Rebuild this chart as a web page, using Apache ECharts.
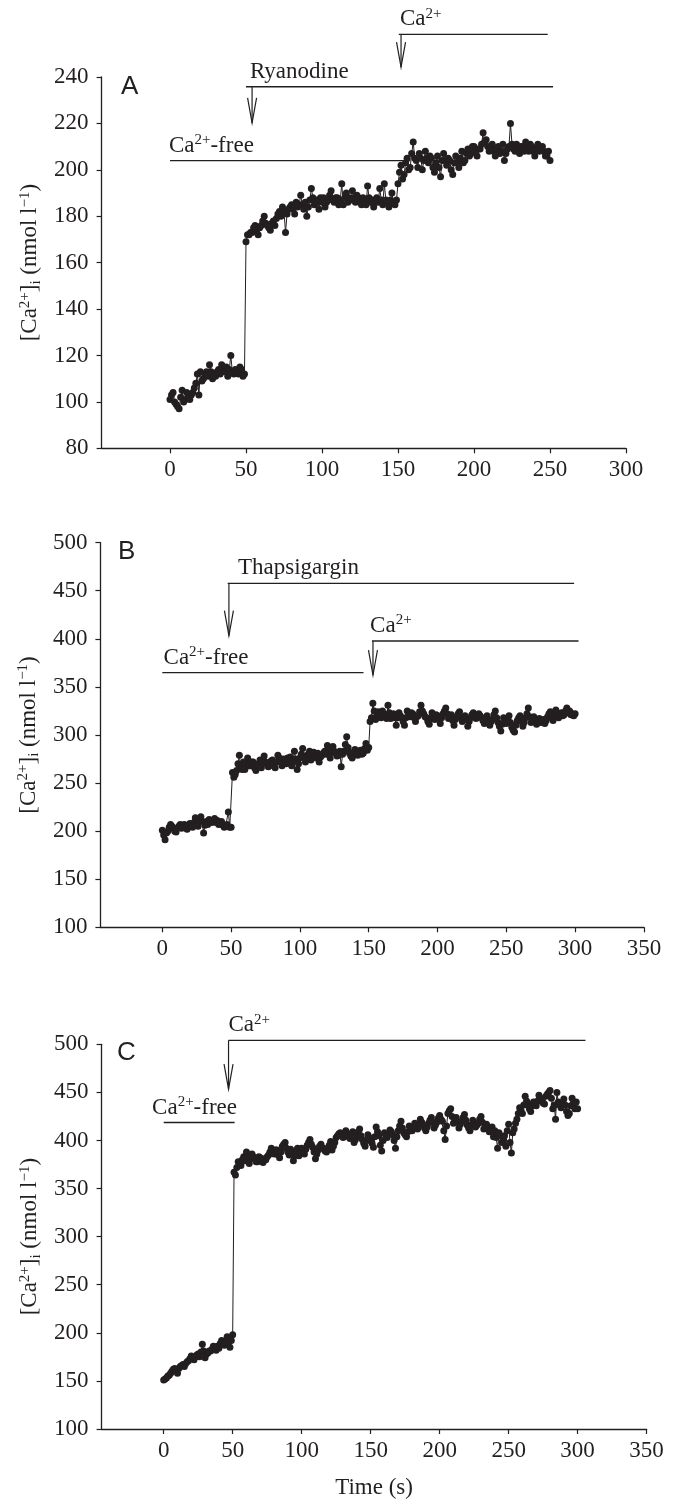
<!DOCTYPE html>
<html><head><meta charset="utf-8">
<script src="https://cdn.jsdelivr.net/npm/echarts@6/dist/echarts.min.js"></script>
<style>html,body{margin:0;padding:0;background:#fff}#c{width:682px;height:1500px}</style>
</head><body><div id="c"></div>
<script>
// ---- data ----
const SAMPLE_STEP_S = 1; // sampling interval of the recordings (s)
const timeTicksA = [0, 50, 100, 150, 200, 250, 300];
const timeTicksBC = [0, 50, 100, 150, 200, 250, 300, 350];

// Panel A: t = 0..250 s (one value per second)
const valuesA = [
  101,103,104,100,99,98,97,102,105,100,
  101,104,103,101,103,104,106,108,112,103,
  113,109,110,112,113,111,116,113,110,112,
  111,113,114,112,116,114,113,115,111,114,
  120,113,112,114,113,112,115,114,111,112,
  169,172,172,173,173,175,176,174,172,175,
  176,178,180,177,176,175,174,177,178,176,
  179,181,182,180,184,182,173,181,183,184,
  185,183,181,186,184,185,189,185,183,186,
  180,184,187,192,188,185,187,186,183,188,
  186,188,184,186,187,189,191,187,186,188,
  188,185,187,194,185,188,190,186,188,187,
  191,188,186,189,188,186,185,188,187,185,
  193,188,186,187,184,186,188,186,192,187,
  185,194,187,186,184,187,190,186,185,187,
  194,199,202,196,198,203,205,200,201,207,
  212,205,204,201,207,205,200,204,208,205,
  203,206,205,201,199,203,206,201,197,204,
  207,204,202,205,204,200,198,203,206,203,
  201,205,208,203,204,207,209,206,207,210,
  210,208,206,209,209,211,216,212,213,210,
  208,210,211,208,206,209,210,207,208,211,
  204,207,209,210,220,211,209,208,211,209,
  207,210,210,208,212,209,208,211,210,208,
  206,209,211,208,209,210,208,206,206,208,
  204
];
// Panel B: t = 0..300 s
const valuesB = [
  201,196,191,198,200,204,207,205,203,200,
  199,203,205,207,203,206,207,204,202,206,
  208,205,204,209,214,206,205,211,215,210,
  198,206,210,207,212,210,209,211,213,209,
  211,207,208,210,206,204,205,207,220,204,
  204,261,256,259,263,270,279,266,264,272,
  264,270,276,268,268,272,272,266,263,269,
  270,274,266,271,278,272,270,267,268,273,
  274,270,266,272,279,276,272,268,275,271,
  270,276,274,277,268,272,283,275,264,270,
  276,280,286,278,272,276,280,283,274,279,
  282,278,276,281,272,277,279,281,283,280,
  289,284,276,282,288,283,281,278,279,283,
  267,280,283,290,298,287,281,278,276,282,
  285,281,279,283,284,280,281,286,291,284,
  287,314,318,333,325,316,320,324,321,318,
  325,322,320,317,331,323,317,320,322,318,
  310,318,323,320,318,314,310,318,325,321,
  319,323,322,318,314,319,320,324,331,325,
  322,319,318,314,311,317,323,320,316,321,
  320,317,312,318,322,325,328,322,317,320,
  321,315,310,316,319,322,324,318,314,317,
  320,316,309,314,318,321,323,319,317,320,
  322,320,318,315,312,317,320,316,310,314,
  316,321,325,318,313,309,304,311,318,315,
  312,317,320,313,308,305,303,310,315,318,
  320,314,309,313,318,322,328,319,313,316,
  319,315,311,314,317,313,314,316,312,315,
  319,322,324,318,315,320,326,322,318,321,
  323,320,321,325,328,323,325,321,322,320,
  322
];
// Panel C: t = 0..300 s
const valuesC = [
  151,152,153,155,156,158,160,162,163,161,
  158,163,165,166,167,165,168,170,171,173,
  176,174,172,175,177,178,175,180,188,181,
  174,178,179,181,181,183,186,184,182,186,
  184,189,192,188,187,190,196,191,185,192,
  198,367,364,372,378,375,374,380,383,379,
  388,382,376,381,386,383,381,378,378,383,
  382,379,377,381,380,383,385,388,392,387,
  386,390,390,385,382,388,394,396,398,392,
  388,385,391,386,379,384,389,392,384,388,
  392,389,386,391,395,398,401,396,393,388,
  381,386,390,394,396,392,392,389,388,391,
  395,399,390,394,398,403,405,407,408,406,
  403,407,410,406,404,402,407,409,398,401,
  404,409,412,405,401,397,394,400,406,403,
  400,397,393,404,414,409,405,395,389,400,
  408,405,403,407,411,409,406,400,392,404,
  410,415,420,413,408,406,404,409,415,412,
  410,414,418,415,412,417,422,419,416,413,
  410,414,418,421,424,419,413,416,419,423,
  426,422,420,410,401,415,428,431,433,425,
  418,421,424,419,413,417,420,424,427,421,
  416,413,410,416,421,418,414,416,418,422,
  425,419,412,415,417,413,409,412,414,404,
  410,403,392,408,405,398,400,405,394,410,
  417,398,387,408,412,418,422,428,434,431,
  428,437,446,441,437,433,430,436,440,438,
  436,441,447,444,441,439,438,446,448,450,
  452,444,433,437,422,450,440,437,434,439,
  443,437,430,426,428,436,444,439,433,440,
  433
];

// Annotation bars (data units)
const annA_text = ['{n|Ca}{s|2+}{n|-free}', '{n|Ryanodine}', '{n|Ca}{s|2+}'];
const annA_start = [0, 50, 150.5];
const annA_end = [158, 252, 248.5];
const annA_level = [204, 235.8, 258.4];
const annA_arrowAt = [null, 54, 152];
const annA_arrowTip = [null, 220.2, 244.3];
const annA_textAt = [-0.7, 52.6, 151.3];

const annB_text = ['{n|Ca}{s|2+}{n|-free}', '{n|Thapsigargin}', '{n|Ca}{s|2+}'];
const annB_start = [0, 47.5, 152.4];
const annB_end = [146.2, 299.3, 302.5];
const annB_level = [364.7, 457.7, 397.7];
const annB_arrowAt = [null, 48.4, 153.1];
const annB_arrowTip = [null, 403.2, 362.3];
const annB_textAt = [0.9, 55, 151];

const annC_text = ['{n|Ca}{s|2+}{n|-free}', '{n|Ca}{s|2+}'];
const annC_start = [0, 47];
const annC_end = [51.4, 305.7];
const annC_level = [418.7, 504.1];
const annC_arrowAt = [null, 47];
const annC_arrowTip = [null, 453.3];
const annC_textAt = [-8.4, 46.9];

const panelLetters = ['A', 'B', 'C'];
const yName = '{n|[Ca}{s|2+}{n|]}{b|i}{n| (nmol l}{s|\u22121}{n|)}';
const xName = 'Time (s)';

// ---- styling ----
const INK = '#231f20';
const SERIF = '"Liberation Serif","Times New Roman",serif';
const SANS = '"Liberation Sans",Arial,sans-serif';
const FS = 23;
const rich = {
  n: {fontFamily: SERIF, fontSize: FS, lineHeight: 26, color: INK},
  s: {fontFamily: SERIF, fontSize: 15, lineHeight: 15, verticalAlign: 'top', color: INK},
  b: {fontFamily: SERIF, fontSize: 15, lineHeight: 15, verticalAlign: 'bottom', color: INK}
};

function pairs(values) { return values.map((v, i) => [i * SAMPLE_STEP_S, v]); }

function annotSeries(idx, text, start, end, level, arrowAt, arrowTip, textAt) {
  return {
    type: 'custom', xAxisIndex: idx, yAxisIndex: idx, clip: false, silent: true, z: 6,
    data: level.map((y, i) => [start[i], y]),
    renderItem: function (params, api) {
      const i = params.dataIndex;
      const p0 = api.coord([start[i], level[i]]);
      const p1 = api.coord([end[i], level[i]]);
      const children = [{
        type: 'line', shape: {x1: p0[0], y1: p0[1], x2: p1[0], y2: p1[1]},
        style: {stroke: INK, lineWidth: 1.3}
      }];
      if (arrowAt[i] !== null) {
        const pa = api.coord([arrowAt[i], level[i]]);
        const pt = api.coord([arrowAt[i], arrowTip[i]]);
        children.push({type: 'line', shape: {x1: pa[0], y1: pa[1], x2: pt[0], y2: pt[1]}, style: {stroke: INK, lineWidth: 1.2}});
        children.push({type: 'polyline', shape: {points: [[pt[0] - 4.5, pt[1] - 25], [pt[0], pt[1]], [pt[0] + 4.5, pt[1] - 25]]}, style: {stroke: INK, lineWidth: 1.2, fill: null}});
      }
      const pl = api.coord([textAt[i], level[i]]);
      children.push({
        type: 'text', x: pl[0], y: pl[1] - 2,
        style: {text: text[i], rich: rich, align: 'left', verticalAlign: 'bottom', fill: INK}
      });
      return {type: 'group', children: children};
    }
  };
}

function dataSeries(idx, values) {
  return {
    type: 'line', xAxisIndex: idx, yAxisIndex: idx, data: pairs(values),
    symbol: 'circle', symbolSize: 7, showSymbol: true, showAllSymbol: true, sampling: null,
    lineStyle: {color: INK, width: 1}, itemStyle: {color: INK}, z: 3, silent: true
  };
}

const tickStyle = {show: true, length: 5, inside: false, lineStyle: {color: INK, width: 1.2}};
const labelStyle = {color: INK, fontFamily: SERIF, fontSize: FS};

function xAxis(idx, max, ticks, withName) {
  const a = {
    type: 'value', gridIndex: idx, min: -45, max: max,
    axisLine: {show: true, onZero: false, lineStyle: {color: INK, width: 1.3}}, splitLine: {show: false},
    axisTick: Object.assign({}, tickStyle, {customValues: ticks}),
    axisLabel: Object.assign({}, labelStyle, {margin: 10, customValues: ticks})
  };
  if (withName) {
    a.name = xName; a.nameLocation = 'middle'; a.nameGap = 47;
    a.nameTextStyle = {color: INK, fontFamily: SERIF, fontSize: FS};
  }
  return a;
}
function yAxis(idx, min, max, interval) {
  return {
    type: 'value', gridIndex: idx, min: min, max: max, interval: interval,
    axisLine: {show: true, onZero: false, lineStyle: {color: INK, width: 1.3}}, splitLine: {show: false}, axisTick: tickStyle,
    axisLabel: Object.assign({}, labelStyle, {margin: 13}),
    name: yName, nameLocation: 'middle', nameRotate: 90, nameGap: 58,
    nameTextStyle: {rich: rich}
  };
}

const chart = echarts.init(document.getElementById('c'), null, {renderer: 'canvas', width: 682, height: 1500});
chart.setOption({
  animation: false,
  backgroundColor: '#ffffff',
  title: [
    {text: panelLetters[0], left: 121, top: 74, padding: 0, textStyle: {fontFamily: SANS, fontSize: 26, fontWeight: 'normal', color: INK}},
    {text: panelLetters[1], left: 118, top: 539, padding: 0, textStyle: {fontFamily: SANS, fontSize: 26, fontWeight: 'normal', color: INK}},
    {text: panelLetters[2], left: 117, top: 1040, padding: 0, textStyle: {fontFamily: SANS, fontSize: 26, fontWeight: 'normal', color: INK}}
  ],
  grid: [
    {left: 101.6, top: 77, width: 524.4, height: 371.3, containLabel: false},
    {left: 100.4, top: 542.6, width: 543.5, height: 384.7, containLabel: false},
    {left: 101.6, top: 1044.3, width: 545, height: 385.7, containLabel: false}
  ],
  xAxis: [xAxis(0, 300, timeTicksA, false), xAxis(1, 350, timeTicksBC, false), xAxis(2, 350, timeTicksBC, true)],
  yAxis: [yAxis(0, 80, 240, 20), yAxis(1, 100, 500, 50), yAxis(2, 100, 500, 50)],
  series: [
    dataSeries(0, valuesA), dataSeries(1, valuesB), dataSeries(2, valuesC),
    annotSeries(0, annA_text, annA_start, annA_end, annA_level, annA_arrowAt, annA_arrowTip, annA_textAt),
    annotSeries(1, annB_text, annB_start, annB_end, annB_level, annB_arrowAt, annB_arrowTip, annB_textAt),
    annotSeries(2, annC_text, annC_start, annC_end, annC_level, annC_arrowAt, annC_arrowTip, annC_textAt)
  ]
});
</script></body></html>
